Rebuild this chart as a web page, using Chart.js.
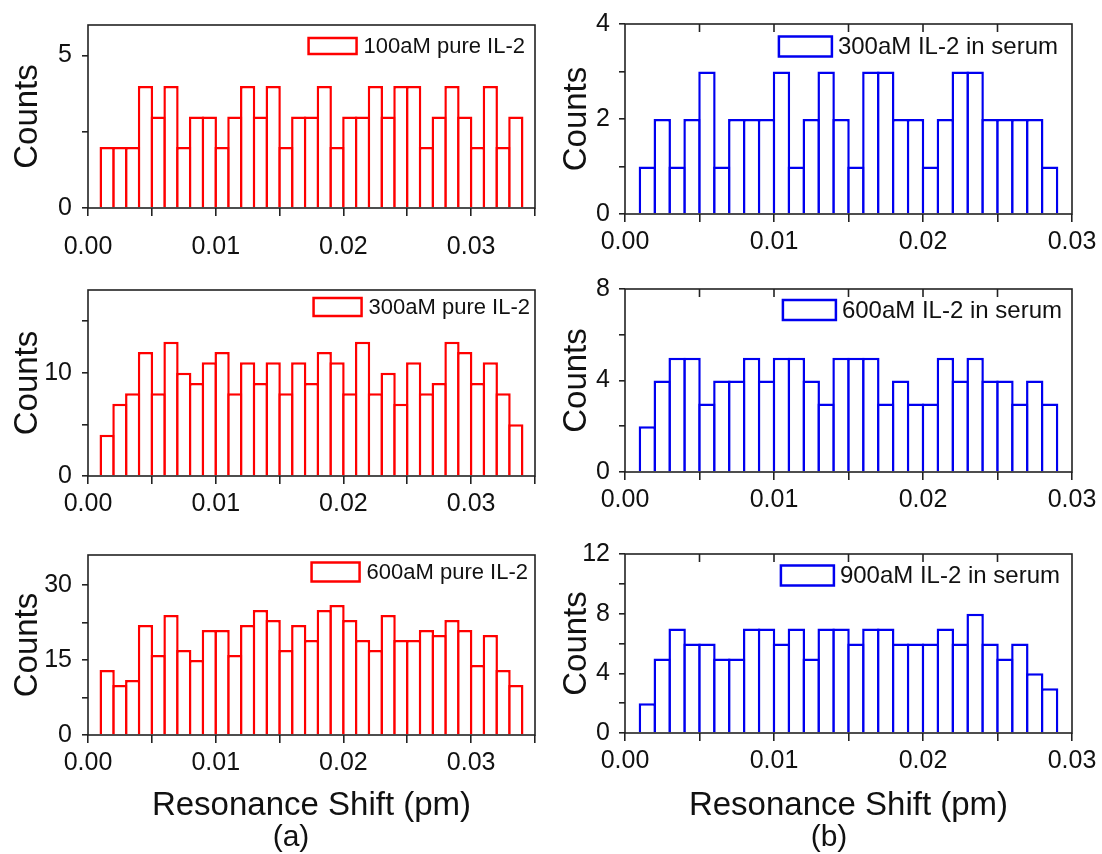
<!DOCTYPE html>
<html>
<head>
<meta charset="utf-8">
<script src="https://cdn.jsdelivr.net/npm/chart.js@4.4.0/dist/chart.umd.min.js"></script>
<style>
body { margin: 0; background: #fff; }
#wrap { position: relative; width: 1102px; height: 854px; overflow: hidden; font-family: 'Liberation Sans', Arial, sans-serif; }
canvas { position: absolute; }
.tag { position: absolute; width: 100px; text-align: center; font-size: 30px; line-height: 34px; color: #111; }
</style>
</head>
<body>
<div id="wrap">
  <canvas id="c1"></canvas>
  <canvas id="c2"></canvas>
  <canvas id="c3"></canvas>
  <canvas id="c4"></canvas>
  <canvas id="c5"></canvas>
  <canvas id="c6"></canvas>
  <div class="tag" style="left:241px; top:819px">(a)</div>
  <div class="tag" style="left:779px; top:819px">(b)</div>
</div>
<script>
// bin centres (pm), bin width 0.001
var pureBins = [0.0015, 0.0025, 0.0035, 0.0045, 0.0055, 0.0065, 0.0075, 0.0085, 0.0095, 0.0105,
    0.0115, 0.0125, 0.0135, 0.0145, 0.0155, 0.0165, 0.0175, 0.0185, 0.0195, 0.0205,
    0.0215, 0.0225, 0.0235, 0.0245, 0.0255, 0.0265, 0.0275, 0.0285, 0.0295, 0.0305,
    0.0315, 0.0325, 0.0335];
var serumBins = [0.0015, 0.0025, 0.0035, 0.0045, 0.0055, 0.0065, 0.0075, 0.0085, 0.0095, 0.0105,
    0.0115, 0.0125, 0.0135, 0.0145, 0.0155, 0.0165, 0.0175, 0.0185, 0.0195, 0.0205,
    0.0215, 0.0225, 0.0235, 0.0245, 0.0255, 0.0265, 0.0275, 0.0285];

// counts per bin
var pure100 = [2, 2, 2, 4, 3, 4, 2, 3, 3, 2, 3, 4, 3, 4, 2, 3, 3, 4, 2, 3, 3, 4, 3, 4, 4, 2, 3, 4, 3, 2, 4, 2, 3];
var pure300 = [4, 7, 8, 12, 8, 13, 10, 9, 11, 12, 8, 11, 9, 11, 8, 11, 9, 12, 11, 8, 13, 8, 10, 7, 11, 8, 9, 13, 12, 9, 11, 8, 5];
var pure600 = [13, 10, 11, 22, 16, 24, 17, 15, 21, 21, 16, 22, 25, 23, 17, 22, 19, 25, 26, 23, 19, 17, 24, 19, 19, 21, 20, 23, 21, 14, 20, 13, 10];
var serum300 = [1, 2, 1, 2, 3, 1, 2, 2, 2, 3, 1, 2, 3, 2, 1, 3, 3, 2, 2, 1, 2, 3, 3, 2, 2, 2, 2, 1];
var serum600 = [2, 4, 5, 5, 3, 4, 4, 5, 4, 5, 5, 4, 3, 5, 5, 5, 3, 4, 3, 3, 5, 4, 5, 4, 4, 3, 4, 3];
var serum900 = [2, 5, 7, 6, 6, 5, 5, 7, 7, 6, 7, 5, 7, 7, 6, 7, 7, 6, 6, 6, 7, 6, 8, 6, 5, 6, 4, 3];

var labels = ['100aM pure IL-2', '300aM pure IL-2', '600aM pure IL-2',
    '300aM IL-2 in serum', '600aM IL-2 in serum', '900aM IL-2 in serum'];

var FONT = "'Liberation Sans', Arial, sans-serif";
var RED = '#ff0000';
var BLUE = '#0000f0';
var BAR_LINE = 2.5;

var panels = [
    { id: 'c1', left: 0, top: 0, w: 560, h: 265, padTop: 13, padRight: 25, yW: 88, xH: 57, xPad: 16, titlePad: 8,
      bins: pureBins, counts: pure100, label: labels[0], color: RED, xMax: 0.035, yMax: 6, yStep: 2.5, yLab: 5,
      xTitle: false, leg: { y: 21, size: 22, bw: 48, bh: 16, right: 10, gap: 7 }, topTicks: false },
    { id: 'c2', left: 0, top: 265, w: 560, h: 265, padTop: 16, padRight: 25, yW: 88, xH: 54, xPad: 5, titlePad: 8,
      bins: pureBins, counts: pure300, label: labels[1], color: RED, xMax: 0.035, yMax: 18, yStep: 5, yLab: 10,
      xTitle: false, leg: { y: 17, size: 22, bw: 48, bh: 18, right: 5, gap: 7 }, topTicks: false },
    { id: 'c3', left: 0, top: 530, w: 560, h: 324, padTop: 11, padRight: 25, yW: 88, xH: 119, xPad: 5, titlePad: 8,
      bins: pureBins, counts: pure600, label: labels[2], color: RED, xMax: 0.035, yMax: 36, yStep: 7.5, yLab: 15,
      xTitle: true, leg: { y: 17, size: 22, bw: 48, bh: 19, right: 7, gap: 7 }, topTicks: false },
    { id: 'c4', left: 540, top: 0, w: 562, h: 265, padTop: 20, padRight: 30, yW: 85, xH: 51, xPad: 5, titlePad: 17,
      bins: serumBins, counts: serum300, label: labels[3], color: BLUE, xMax: 0.03, yMax: 4, yStep: 1, yLab: 2,
      xTitle: false, leg: { y: 22.5, size: 24, bw: 53, bh: 20, right: 14, gap: 6 }, topTicks: true },
    { id: 'c5', left: 540, top: 265, w: 562, h: 265, padTop: 11, padRight: 30, yW: 85, xH: 58, xPad: 5, titlePad: 17,
      bins: serumBins, counts: serum600, label: labels[4], color: BLUE, xMax: 0.03, yMax: 8, yStep: 2, yLab: 4,
      xTitle: false, leg: { y: 21, size: 24, bw: 53, bh: 20, right: 10, gap: 6 }, topTicks: true },
    { id: 'c6', left: 540, top: 530, w: 562, h: 324, padTop: 8, padRight: 30, yW: 85, xH: 121, xPad: 5, titlePad: 17,
      bins: serumBins, counts: serum900, label: labels[5], color: BLUE, xMax: 0.03, yMax: 12, yStep: 2, yLab: 4,
      xTitle: true, leg: { y: 21.5, size: 24, bw: 53, bh: 20, right: 12, gap: 6 }, topTicks: true }
];

function isMultiple(v, step) {
    var r = v / step;
    return Math.abs(r - Math.round(r)) < 1e-6;
}

// frame round the plot area, plus inward ticks on top for the serum panels
var framePlugin = {
    id: 'frame',
    afterDatasetsDraw: function (chart, args, opts) {
        var ctx = chart.ctx, a = chart.chartArea;
        ctx.save();
        ctx.strokeStyle = '#222';
        ctx.lineWidth = 1.6;
        ctx.strokeRect(a.left, a.top, a.right - a.left, a.bottom - a.top);
        if (opts.topTicks) {
            var xs = chart.scales.x;
            xs.ticks.forEach(function (t) {
                if (t.value <= xs.min || t.value >= xs.max) return;
                var px = xs.getPixelForValue(t.value);
                ctx.beginPath();
                ctx.moveTo(px, a.top);
                ctx.lineTo(px, a.top + 8);
                ctx.stroke();
            });
        }
        ctx.restore();
    }
};

// legend drawn inside the plot, top right
var legendPlugin = {
    id: 'insideLegend',
    afterDatasetsDraw: function (chart, args, opts) {
        var ctx = chart.ctx, a = chart.chartArea, ds = chart.data.datasets[0];
        ctx.save();
        ctx.font = opts.size + 'px ' + FONT;
        var tw = ctx.measureText(ds.label).width;
        var tx = a.right - opts.right - tw;
        var cy = a.top + opts.y;
        ctx.lineWidth = 2.5;
        ctx.strokeStyle = ds.borderColor;
        ctx.fillStyle = '#fff';
        ctx.fillRect(tx - opts.gap - opts.bw, cy - opts.bh / 2, opts.bw, opts.bh);
        ctx.strokeRect(tx - opts.gap - opts.bw, cy - opts.bh / 2, opts.bw, opts.bh);
        ctx.fillStyle = '#111';
        ctx.textBaseline = 'middle';
        ctx.textAlign = 'left';
        ctx.fillText(ds.label, tx, cy + 1);
        ctx.restore();
    }
};

panels.forEach(function (p) {
    var cv = document.getElementById(p.id);
    cv.width = p.w;
    cv.height = p.h;
    cv.style.left = p.left + 'px';
    cv.style.top = p.top + 'px';

    // bars overlap by one border width so shared edges look like a single line
    var plotW = p.w - p.padRight - p.yW;
    var pxPerBin = plotW * 0.001 / p.xMax;

    new Chart(cv.getContext('2d'), {
        type: 'bar',
        data: {
            datasets: [{
                label: p.label,
                data: p.counts.map(function (c, i) { return { x: p.bins[i], y: c }; }),
                backgroundColor: '#ffffff',
                borderColor: p.color,
                borderWidth: BAR_LINE,
                inflateAmount: 0,
                categoryPercentage: 1,
                barPercentage: 1 + BAR_LINE / pxPerBin
            }]
        },
        options: {
            responsive: false,
            animation: false,
            devicePixelRatio: 1,
            layout: { padding: { left: 0, top: p.padTop, right: p.padRight, bottom: 0 } },
            plugins: {
                legend: { display: false },
                tooltip: { enabled: false },
                frame: { topTicks: p.topTicks },
                insideLegend: p.leg
            },
            scales: {
                x: {
                    type: 'linear',
                    min: 0,
                    max: p.xMax,
                    offset: false,
                    grid: { offset: false, drawOnChartArea: false, drawTicks: true, tickLength: 8, color: '#222', lineWidth: 1.6 },
                    border: { display: false },
                    ticks: {
                        stepSize: 0.005,
                        autoSkip: false,
                        maxRotation: 0,
                        padding: p.xPad,
                        color: '#111',
                        font: { family: FONT, size: 25 },
                        callback: function (v) { return isMultiple(v, 0.01) ? v.toFixed(2) : ''; }
                    },
                    title: {
                        display: p.xTitle,
                        text: 'Resonance Shift (pm)',
                        color: '#111',
                        font: { family: FONT, size: 33 },
                        padding: { top: 0, bottom: 28 }
                    },
                    afterFit: function (s) { s.height = p.xH; }
                },
                y: {
                    min: 0,
                    max: p.yMax,
                    grid: { drawOnChartArea: false, drawTicks: true, tickLength: 6, color: '#222', lineWidth: 1.6 },
                    border: { display: false },
                    ticks: {
                        stepSize: p.yStep,
                        includeBounds: false,
                        autoSkip: false,
                        padding: p.left ? 9 : 10,
                        color: '#111',
                        font: { family: FONT, size: 25 },
                        callback: function (v) { return isMultiple(v, p.yLab) ? String(v) : ''; }
                    },
                    title: {
                        display: true,
                        text: 'Counts',
                        color: '#111',
                        font: { family: FONT, size: 33 },
                        padding: { top: p.titlePad, bottom: 0 }
                    },
                    afterFit: function (s) { s.width = p.yW; }
                }
            }
        },
        plugins: [framePlugin, legendPlugin]
    });
});
</script>
</body>
</html>
